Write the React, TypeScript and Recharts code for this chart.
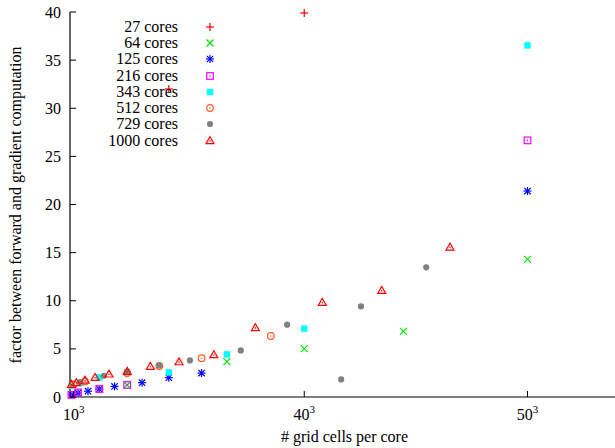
import React from 'react';
import { ScatterChart, Scatter, XAxis, YAxis, Legend } from 'recharts';

const FONT = '"Liberation Serif", "Times New Roman", serif';

const seriesNames = ['27 cores', '64 cores', '125 cores', '216 cores', '343 cores', '512 cores', '729 cores', '1000 cores'];
const seriesColors = ['#ff0000', '#00e600', '#0000ff', '#ff00ff', '#00ffff', '#ff5a1e', '#808080', '#ff0000'];
const seriesMarks = ['plus', 'cross', 'star', 'openSquare', 'square', 'openCircle', 'circle', 'openTriangle'];

// [grid cells per core, factor]
const cores27 = [[27000, 32.0], [64000, 39.9]];
const cores64 = [[15625, 1.25], [42875, 3.67], [64000, 5.02], [91125, 6.82], [125000, 14.3]];
const cores125 = [[547, 0.24], [2197, 0.42], [4913, 0.6], [8000, 0.83], [12167, 1.1], [19683, 1.49], [27000, 2.0], [35937, 2.49], [125000, 21.4]];
const cores216 = [[383, 0.22], [2197, 0.48], [8000, 0.83], [15625, 1.25], [125000, 26.66]];
const cores343 = [[383, 1.17], [2744, 1.45], [8000, 2.04], [15625, 2.56], [27000, 2.56], [42875, 4.43], [64000, 7.1], [125000, 36.53]];
const cores512 = [[1000, 1.3], [4096, 1.62], [15625, 2.49], [24389, 3.22], [35937, 4.03], [54872, 6.34]];
const cores729 = [[2744, 1.56], [9261, 2.21], [15625, 2.63], [24389, 3.28], [32768, 3.8], [46656, 4.84], [59319, 7.51], [74088, 1.83], [79507, 9.41], [97336, 13.47]];
const cores1000 = [[383, 1.28], [1728, 1.45], [4096, 1.72], [6859, 2.0], [10648, 2.35], [15625, 2.63], [21952, 3.15], [29791, 3.62], [39304, 4.36], [50653, 7.17], [68921, 9.8], [85184, 11.04], [103823, 15.54]];

const seriesData = [cores27, cores64, cores125, cores216, cores343, cores512, cores729, cores1000];

const xTicks = [1000, 64000, 125000];
const xTickBase = ['10', '40', '50'];
const yTicks = [0, 5, 10, 15, 20, 25, 30, 35, 40];

function Marker({ kind, color, cx, cy }: any) {
  const dot = <circle cx={cx} cy={cy} r={0.8} fill={color} />;
  switch (kind) {
    case 'plus':
      return (
        <g stroke={color} strokeWidth={1.2}>
          <line x1={cx - 4} y1={cy} x2={cx + 4} y2={cy} />
          <line x1={cx} y1={cy - 4} x2={cx} y2={cy + 4} />
        </g>
      );
    case 'cross':
      return (
        <g stroke={color} strokeWidth={1.2}>
          <line x1={cx - 3.5} y1={cy - 3.5} x2={cx + 3.5} y2={cy + 3.5} />
          <line x1={cx - 3.5} y1={cy + 3.5} x2={cx + 3.5} y2={cy - 3.5} />
        </g>
      );
    case 'star':
      return (
        <g stroke={color} strokeWidth={1.2}>
          <line x1={cx - 4} y1={cy} x2={cx + 4} y2={cy} />
          <line x1={cx} y1={cy - 4} x2={cx} y2={cy + 4} />
          <line x1={cx - 3.2} y1={cy - 3.2} x2={cx + 3.2} y2={cy + 3.2} />
          <line x1={cx - 3.2} y1={cy + 3.2} x2={cx + 3.2} y2={cy - 3.2} />
        </g>
      );
    case 'openSquare':
      return (
        <g>
          <rect x={cx - 3.3} y={cy - 3.3} width={6.6} height={6.6} fill="none" stroke={color} strokeWidth={1.2} />
          {dot}
        </g>
      );
    case 'square':
      return <rect x={cx - 3.2} y={cy - 3.2} width={6.4} height={6.4} fill={color} />;
    case 'openCircle':
      return (
        <g>
          <circle cx={cx} cy={cy} r={3.3} fill="none" stroke={color} strokeWidth={1.2} />
          {dot}
        </g>
      );
    case 'circle':
      return <circle cx={cx} cy={cy} r={3.1} fill={color} />;
    default:
      return (
        <g>
          <polygon
            points={`${cx},${cy - 4.3} ${cx + 4},${cy + 2.6} ${cx - 4},${cy + 2.6}`}
            fill="none"
            stroke={color}
            strokeWidth={1.2}
          />
          {dot}
        </g>
      );
  }
}

const XTickBottom = ({ x, y, payload }: any) => {
  const i = xTicks.indexOf(payload.value);
  return (
    <g>
      <line x1={x} y1={y} x2={x} y2={y - 6} stroke="#000" />
      <text x={x} y={y + 23} textAnchor="middle" fontFamily={FONT} fontSize={16} fill="#000">
        {xTickBase[i]}
        <tspan dy={-7} fontSize={11}>3</tspan>
      </text>
    </g>
  );
};

const XTickTop = ({ x, y }: any) => <line x1={x} y1={y} x2={x} y2={y + 6} stroke="#000" />;

const YTickLeft = ({ x, y, payload }: any) => (
  <g>
    <line x1={x} y1={y} x2={x + 6} y2={y} stroke="#000" />
    <text x={x - 9} y={y + 5.5} textAnchor="end" fontFamily={FONT} fontSize={16} fill="#000">
      {payload.value}
    </text>
  </g>
);

const YTickRight = ({ x, y }: any) => <line x1={x - 6} y1={y} x2={x} y2={y} stroke="#000" />;

const LegendBox = () => (
  <div style={{ fontFamily: FONT, fontSize: 16, color: '#000' }}>
    {seriesNames.map((name, i) => (
      <div key={name} style={{ display: 'flex', alignItems: 'center', height: 16.3 }}>
        <div style={{ width: 178 - 100, textAlign: 'right', lineHeight: '16px', whiteSpace: 'nowrap' }}>{name}</div>
        <svg width={64} height={16} style={{ display: 'block' }}>
          <Marker kind={seriesMarks[i]} color={seriesColors[i]} cx={32} cy={8} />
        </svg>
      </div>
    ))}
  </div>
);

export default function App() {
  return (
    <div style={{ position: 'absolute', left: 0, top: 0, width: 615, height: 448, overflow: 'hidden', background: '#fff' }}>
      <ScatterChart width={630} height={448} margin={{ top: 12, right: 11, bottom: 0, left: 0 }}>
        <XAxis
          dataKey="x"
          type="number"
          domain={[0, 150000]}
          ticks={xTicks}
          interval={0}
          height={51}
          tickSize={0}
          tickMargin={0}
          tickLine={false}
          tick={XTickBottom}
          axisLine={{ stroke: '#000', strokeWidth: 1.2 }}
          label={{
            content: () => (
              <text x={344.5} y={442} textAnchor="middle" fontFamily={FONT} fontSize={16} fill="#000">
                # grid cells per core
              </text>
            ),
          }}
        />
        <XAxis
          xAxisId="top"
          orientation="top"
          type="number"
          domain={[0, 150000]}
          ticks={xTicks}
          interval={0}
          height={0}
          tickSize={0}
          tickMargin={0}
          tickLine={false}
          tick={XTickTop}
          axisLine={{ stroke: '#000', strokeWidth: 1.2 }}
        />
        <YAxis
          dataKey="y"
          type="number"
          domain={[0, 40]}
          ticks={yTicks}
          interval={0}
          width={70}
          tickSize={0}
          tickMargin={0}
          tickLine={false}
          tick={YTickLeft}
          axisLine={{ stroke: '#000', strokeWidth: 1.2 }}
          label={{
            content: () => (
              <text
                x={21}
                y={205}
                transform="rotate(-90 21 205)"
                textAnchor="middle"
                fontFamily={FONT}
                fontSize={16}
                fill="#000"
              >
                factor between forward and gradient computation
              </text>
            ),
          }}
        />
        <YAxis
          yAxisId="right"
          orientation="right"
          type="number"
          domain={[0, 40]}
          ticks={yTicks}
          interval={0}
          width={0}
          tickSize={0}
          tickMargin={0}
          tickLine={false}
          tick={YTickRight}
          axisLine={{ stroke: '#000', strokeWidth: 1.2 }}
        />
        <Legend
          layout="vertical"
          align="center"
          verticalAlign="middle"
          content={LegendBox}
          wrapperStyle={{ position: 'absolute', left: 100, top: 18.5, width: 200, height: 135 }}
        />
        {seriesData.map((pts, i) => (
          <Scatter
            key={seriesNames[i]}
            name={seriesNames[i]}
            data={pts.map(([x, y]) => ({ x, y }))}
            fill={seriesColors[i]}
            isAnimationActive={false}
            shape={(p: any) => <Marker kind={seriesMarks[i]} color={seriesColors[i]} cx={p.cx} cy={p.cy} />}
          />
        ))}
      </ScatterChart>
    </div>
  );
}
